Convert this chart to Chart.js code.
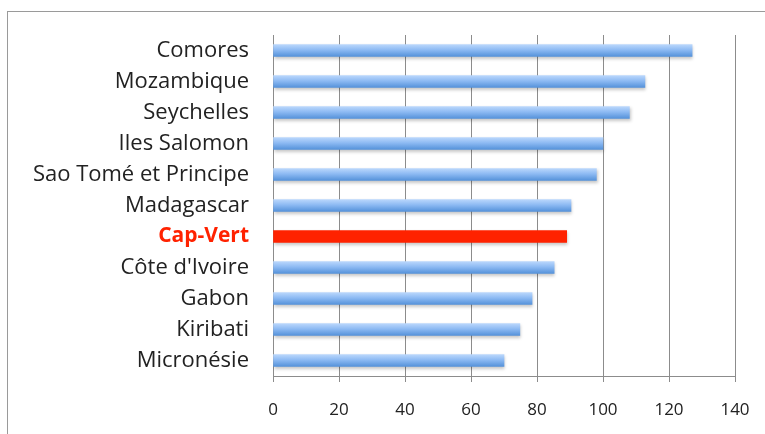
<!DOCTYPE html>
<html><head><meta charset="utf-8">
<script src="https://cdn.jsdelivr.net/npm/chart.js@4"></script>
<style>html,body{margin:0;padding:0;background:#fff}#w{width:765px;height:434px}</style>
</head><body><div id="w"><canvas id="c" width="765" height="434"></canvas></div>
<script>
const categories = ["Comores","Mozambique","Seychelles","Iles Salomon","Sao Tomé et Principe","Madagascar","Cap-Vert","Côte d'Ivoire","Gabon","Kiribati","Micronésie"];
const values = [127, 112.7, 108, 100, 98, 90.3, 89, 85.2, 78.5, 74.8, 70];
const highlight = "Cap-Vert";
const xTicks = [0,20,40,60,80,100,120,140];

function barColor(c){
  if (categories[c.dataIndex] === highlight) return '#ff2200';
  const chart = c.chart, ys = chart.scales.y;
  if (!ys || ys.top === undefined || !chart.chartArea) return '#7eaef0';
  const y = ys.getPixelForValue(c.dataIndex);
  const h = 12;
  const g = chart.ctx.createLinearGradient(0, y - h/2, 0, y + h/2);
  g.addColorStop(0, '#bad7fc');
  g.addColorStop(0.45, '#8dbaf3');
  g.addColorStop(1, '#5592da');
  return g;
}

const framePlugin = {
  id:'frame',
  beforeDraw(chart){
    const ctx = chart.ctx;
    ctx.save();
    ctx.strokeStyle = '#9a9a9a'; ctx.lineWidth = 1;
    ctx.strokeRect(7.5, 11.5, 900, 600);
    ctx.restore();
  },
  beforeDatasetsDraw(chart){
    const ctx = chart.ctx;
    ctx.save();
    ctx.shadowColor = 'rgba(0,0,0,0.22)';
    ctx.shadowBlur = 3;
    ctx.shadowOffsetY = 2;
    ctx.shadowOffsetX = 1;
  },
  afterDatasetsDraw(chart){ chart.ctx.restore(); }
};

new Chart(document.getElementById('c'), {
  type:'bar',
  data:{ labels: categories, datasets:[{ data: values, barThickness: 12, borderWidth:0, backgroundColor: barColor }]},
  options:{
    indexAxis:'y', responsive:false, animation:false,
    layout:{ padding:{ top:35, right:30, bottom:0, left:0 } },
    plugins:{ legend:{display:false}, tooltip:{enabled:false} },
    scales:{
      x:{ min:0, max:140,
        afterBuildTicks(ax){ ax.ticks = xTicks.map(v=>({value:v})); },
        afterFit(ax){ ax.height = 58; ax.paddingLeft = 0; ax.paddingRight = 0; },
        grid:{ color:'#8c8c8c', lineWidth:1, drawTicks:true, tickLength:6, tickColor:'#8c8c8c' },
        border:{ color:'#8c8c8c' },
        ticks:{ color:'#222', font:{ family:'Open Sans', size:17 }, padding:18, maxRotation:0 }
      },
      y:{
        afterFit(ax){ ax.width = 273; ax.paddingTop = 0; ax.paddingBottom = 0; },
        grid:{ display:false, drawTicks:false },
        border:{ color:'#8c8c8c' },
        ticks:{ padding:24, autoSkip:false,
          color:(c)=> categories[c.index]===highlight ? '#ff2200' : '#222',
          font:(c)=> ({ family:'Open Sans', size:categories[c.index]===highlight ? 21 : 22, weight: categories[c.index]===highlight ? 'bold':'normal' })
        }
      }
    }
  },
  plugins:[framePlugin]
});
</script></body></html>
